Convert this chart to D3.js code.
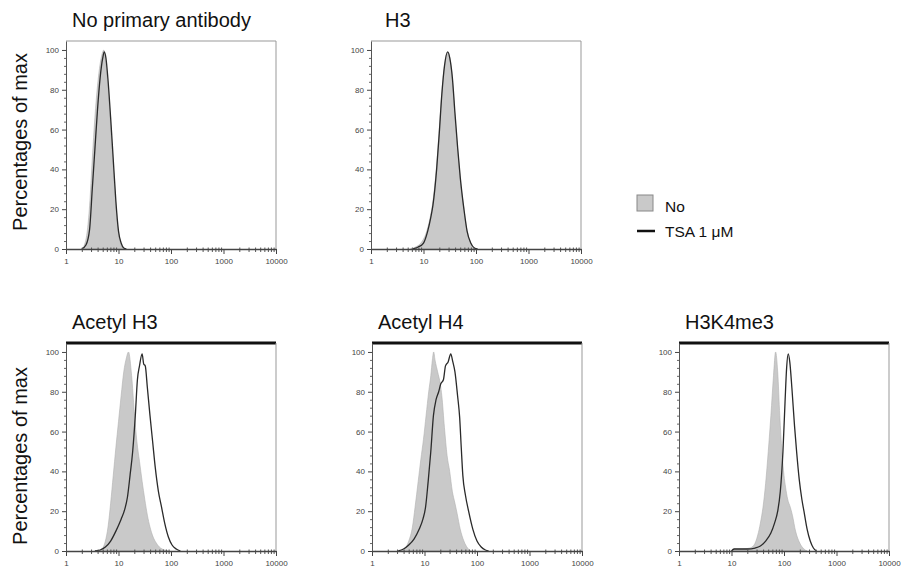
<!DOCTYPE html>
<html>
<head>
<meta charset="utf-8">
<script src="https://cdn.jsdelivr.net/npm/d3@7"></script>
<style>
  html, body { margin: 0; padding: 0; background: #fff; }
  svg { display: block; font-family: "Liberation Sans", Arial, sans-serif; }
</style>
</head>
<body>
<svg id="chart" width="902" height="574"></svg>
<script>
// ---- Data (x = log10 fluorescence intensity, y = % of max) ----
const xTickLabels = ["1", "10", "100", "1000", "10000"];
const xTickValues = [1, 10, 100, 1000, 10000];
const yTickValues = [0, 20, 40, 60, 80, 100];
const seriesNames = ["No", "TSA 1 \u03BCM"];
const panelTitles = ["No primary antibody", "H3", "Acetyl H3", "Acetyl H4", "H3K4me3"];

const noPrimaryNo = [[0.30,0],[0.35,2],[0.40,8],[0.45,22],[0.50,45],[0.55,66],[0.60,82],[0.65,93],[0.70,99],[0.72,100],[0.75,95],[0.80,82],[0.85,62],[0.90,42],[0.95,22],[1.00,8],[1.05,2],[1.10,0]];
const noPrimaryTsa = [[0.30,0],[0.38,2],[0.45,10],[0.50,30],[0.55,50],[0.60,70],[0.65,86],[0.70,96],[0.73,99],[0.76,96],[0.80,85],[0.85,66],[0.90,45],[0.95,24],[1.00,9],[1.05,3],[1.10,0.5],[1.15,0]];

const h3No = [[0.75,0],[0.85,1],[0.95,3],[1.05,8],[1.12,15],[1.18,24],[1.25,42],[1.30,60],[1.35,79],[1.40,92],[1.46,99],[1.50,96],[1.55,85],[1.60,66],[1.65,50],[1.70,35],[1.77,20],[1.83,9],[1.90,3],[1.96,0.5],[2.02,0]];
const h3Tsa = [[0.80,0],[0.90,1],[1.00,3],[1.08,9],[1.14,16],[1.18,22],[1.25,40],[1.30,58],[1.35,78],[1.40,92],[1.46,99],[1.50,96],[1.55,86],[1.60,68],[1.65,51],[1.70,36],[1.77,20],[1.83,9],[1.90,3],[1.97,0.5],[2.03,0]];

const acH3No = [[0.60,0],[0.68,1],[0.75,5],[0.80,12],[0.85,24],[0.90,38],[0.95,52],[1.00,65],[1.05,78],[1.10,90],[1.15,97],[1.19,100],[1.25,88],[1.30,70],[1.35,55],[1.40,45],[1.45,35],[1.50,26],[1.55,18],[1.60,12],[1.66,7],[1.72,4],[1.80,1.5],[1.88,0.5],[1.95,0]];
const acH3Tsa = [[0.55,0],[0.65,0.5],[0.75,2],[0.85,5],[0.95,10],[1.05,16],[1.12,21],[1.17,27],[1.22,38],[1.27,50],[1.32,68],[1.36,86],[1.40,93],[1.45,99],[1.48,94],[1.51,93],[1.55,82],[1.60,68],[1.65,55],[1.70,42],[1.76,30],[1.82,22],[1.88,14],[1.95,7],[2.02,3],[2.10,1],[2.18,0]];

const acH4No = [[0.55,0],[0.62,1],[0.70,5],[0.77,12],[0.82,22],[0.88,35],[0.93,46],[0.98,56],[1.03,68],[1.08,80],[1.12,88],[1.15,96],[1.175,100],[1.20,96],[1.25,90],[1.30,84],[1.33,78],[1.38,62],[1.43,48],[1.48,40],[1.53,30],[1.58,24],[1.62,19],[1.68,11],[1.75,5],[1.82,1.5],[1.88,0]];
const acH4Tsa = [[0.50,0],[0.60,1],[0.70,3],[0.80,6],[0.90,11],[0.97,16],[1.02,22],[1.07,35],[1.12,50],[1.17,68],[1.22,76],[1.27,80],[1.31,84],[1.36,86],[1.40,93],[1.45,95],[1.50,99],[1.54,95],[1.58,90],[1.63,78],[1.67,67],[1.70,52],[1.73,38],[1.78,28],[1.84,20],[1.92,11],[2.00,5],[2.08,2],[2.16,0.5],[2.22,0]];

const k4me3No = [[1.00,0],[1.05,1],[1.20,1],[1.35,1.5],[1.43,3],[1.50,8],[1.55,14],[1.60,22],[1.65,34],[1.70,50],[1.75,68],[1.80,88],[1.84,100],[1.88,90],[1.92,68],[1.96,50],[2.00,38],[2.03,32],[2.07,26],[2.12,22],[2.16,18],[2.22,10],[2.30,4],[2.38,1],[2.44,0]];
const k4me3Tsa = [[1.00,0],[1.05,1],[1.30,1],[1.45,1.5],[1.55,2.5],[1.65,5],[1.75,9],[1.82,14],[1.88,20],[1.93,30],[1.98,50],[2.02,75],[2.05,92],[2.08,99],[2.11,95],[2.15,82],[2.20,63],[2.24,50],[2.29,36],[2.34,26],[2.38,20],[2.44,11],[2.50,5],[2.56,1.5],[2.62,0]];

// ---- Layout ----
const W = 210, H = 208;
const panels = [
  { title: panelTitles[0], no: noPrimaryNo, tsa: noPrimaryTsa, left: 66,  top: 41,  titleX: 72,  thickTop: false },
  { title: panelTitles[1], no: h3No,        tsa: h3Tsa,        left: 371, top: 41,  titleX: 385, thickTop: false },
  { title: panelTitles[2], no: acH3No,      tsa: acH3Tsa,      left: 66,  top: 343, titleX: 72,  thickTop: true },
  { title: panelTitles[3], no: acH4No,      tsa: acH4Tsa,      left: 372, top: 343, titleX: 378, thickTop: true },
  { title: panelTitles[4], no: k4me3No,     tsa: k4me3Tsa,     left: 679, top: 343, titleX: 685, thickTop: true }
];

const svg = d3.select("#chart");
const x = d3.scaleLog().domain([1, 10000]).range([0, W]);
const y = d3.scaleLinear().domain([0, 104.5]).range([H, 0]);

const area = d3.area()
  .x(d => x(Math.pow(10, d[0])))
  .y0(H).y1(d => y(d[1]))
  .curve(d3.curveMonotoneX);
const line = d3.line()
  .x(d => x(Math.pow(10, d[0])))
  .y(d => y(d[1]))
  .curve(d3.curveMonotoneX);

panels.forEach(p => {
  const g = svg.append("g").attr("transform", `translate(${p.left},${p.top})`);

  // frame (top/right)
  g.append("line").attr("x1", 0).attr("x2", W).attr("y1", 0).attr("y2", 0)
    .attr("stroke", p.thickTop ? "#111" : "#999").attr("stroke-width", p.thickTop ? 3 : 1);
  g.append("line").attr("x1", W).attr("x2", W).attr("y1", 0).attr("y2", H)
    .attr("stroke", "#999").attr("stroke-width", 1);

  // data
  g.append("path").datum(p.no).attr("d", area)
    .attr("fill", "#c9c9c9").attr("stroke", "#b0b0b0").attr("stroke-width", 0.6);
  g.append("path").datum(p.tsa).attr("d", line)
    .attr("fill", "none").attr("stroke", "#2a2a2a").attr("stroke-width", 1.3);

  // minor x ticks (log)
  const minorX = [];
  for (let e = 0; e < 4; e++) for (let k = 2; k <= 9; k++) minorX.push(k * Math.pow(10, e));
  g.append("g").attr("transform", `translate(0,${H})`)
    .call(d3.axisBottom(x).tickValues(minorX).tickSize(3).tickFormat(""))
    .call(a => a.select(".domain").remove())
    .call(a => a.selectAll("line").attr("stroke", "#555").attr("y1", -1.5));

  // major x axis
  g.append("g").attr("transform", `translate(0,${H})`)
    .call(d3.axisBottom(x).tickValues(xTickValues).tickSize(5).tickSizeOuter(0)
      .tickFormat((d, i) => xTickLabels[i]))
    .call(a => a.select(".domain").attr("stroke", "#444").attr("stroke-width", 1.5))
    .call(a => a.selectAll("line").attr("stroke", "#444"))
    .call(a => a.selectAll("text").attr("font-size", 8).attr("fill", "#444")
      .attr("font-family", "Liberation Sans, Arial, sans-serif").attr("dy", "0.9em"));

  // minor y ticks
  const minorY = d3.range(0, 101, 4).filter(v => v % 20 !== 0);
  g.append("g")
    .call(d3.axisLeft(y).tickValues(minorY).tickSize(2).tickFormat(""))
    .call(a => a.select(".domain").remove())
    .call(a => a.selectAll("line").attr("stroke", "#666"));

  // major y axis
  g.append("g")
    .call(d3.axisLeft(y).tickValues(yTickValues).tickSize(4).tickSizeOuter(0))
    .call(a => a.select(".domain").attr("stroke", "#555").attr("stroke-width", 1))
    .call(a => a.selectAll("line").attr("stroke", "#444"))
    .call(a => a.selectAll("text").attr("font-size", 8).attr("fill", "#444")
      .attr("font-family", "Liberation Sans, Arial, sans-serif"));

  // title
  svg.append("text").attr("x", p.titleX).attr("y", p.top - 14)
    .attr("font-size", 20).attr("fill", "#111").text(p.title);
});

// y-axis labels
[142, 456].forEach(cy => {
  svg.append("text")
    .attr("transform", `translate(27,${cy}) rotate(-90)`)
    .attr("text-anchor", "middle").attr("font-size", 20).attr("fill", "#111")
    .text("Percentages of max");
});

// legend
const lg = svg.append("g");
lg.append("rect").attr("x", 637).attr("y", 195).attr("width", 16).attr("height", 16)
  .attr("fill", "#c9c9c9").attr("stroke", "#888").attr("stroke-width", 1);
lg.append("text").attr("x", 665).attr("y", 212).attr("font-size", 15.5).attr("fill", "#111").text(seriesNames[0]);
lg.append("line").attr("x1", 637).attr("x2", 655).attr("y1", 231).attr("y2", 231)
  .attr("stroke", "#111").attr("stroke-width", 2.5);
lg.append("text").attr("x", 665).attr("y", 237).attr("font-size", 15.5).attr("fill", "#111").text(seriesNames[1]);
</script>
</body>
</html>
